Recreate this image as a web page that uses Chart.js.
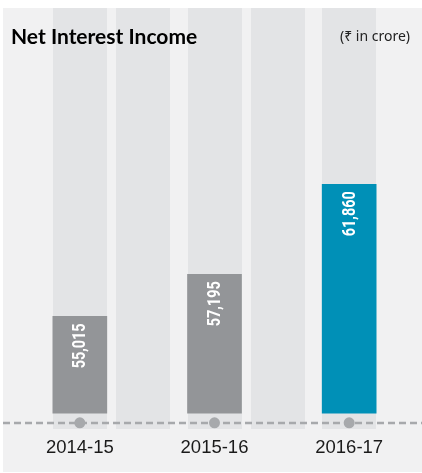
<!DOCTYPE html>
<html>
<head>
<meta charset="utf-8">
<script src="https://cdn.jsdelivr.net/npm/chart.js@4"></script>
<style>
  html, body { margin: 0; padding: 0; background: #fff; }
  #wrap { width: 422px; height: 473px; }
</style>
</head>
<body>
<div id="wrap"><canvas id="nii"></canvas></div>
<script>
/* ── data ─────────────────────────────────────────────── */
const YEARS  = ['2014-15', '2015-16', '2016-17'];
const NII    = [55015, 57195, 61860];
const BAR_COLORS = ['#939598', '#939598', '#0090b7'];
const BASE   = 50000;
const Y_MIN  = 49500;
const Y_MAX  = 71000;

const TITLE  = 'Net Interest Income';
const UNIT   = '(₹ in crore)';

const PANEL  = '#f1f1f2';
const STRIPE = '#e3e4e6';
const GREY   = '#a7a9ac';

/* ── backdrop: panel, stripes, dashed baseline, titles ── */
const backdrop = {
  id: 'backdrop',
  beforeDraw(chart) {
    const { ctx, chartArea: a, scales: { x } } = chart;
    const bottom = Math.round(a.bottom);
    ctx.save();
    ctx.fillStyle = PANEL;
    ctx.fillRect(3, a.top, chart.width - 3, chart.height - a.top - 1);

    // stripe behind every bar plus one between each pair
    ctx.fillStyle = STRIPE;
    const stripeW = 54;
    const spots = [];
    YEARS.forEach((_, i) => {
      spots.push(x.getPixelForValue(i));
      if (i < YEARS.length - 1) spots.push(x.getPixelForValue(i + 0.5) - 4);
    });
    spots.forEach(cx => ctx.fillRect(Math.round(cx - stripeW / 2), a.top, stripeW, bottom - a.top + 6));

    ctx.strokeStyle = GREY;
    ctx.lineWidth = 2.5;
    ctx.setLineDash([7, 4]);
    ctx.beginPath();
    ctx.moveTo(3, bottom);
    ctx.lineTo(chart.width, bottom);
    ctx.stroke();
    ctx.setLineDash([]);

    ctx.fillStyle = '#000';
    ctx.textBaseline = 'alphabetic';
    ctx.font = 'bold 21px Lato, "Open Sans", sans-serif';
    ctx.textAlign = 'left';
    ctx.fillText(TITLE, 11, 44);

    ctx.fillStyle = '#222';
    ctx.font = '14px "Noto Sans", "DejaVu Sans", sans-serif';
    ctx.textAlign = 'right';
    ctx.fillText(UNIT, 410, 41);
    ctx.restore();
  },
  afterDatasetsDraw(chart) {
    const { ctx } = chart;
    const meta = chart.getDatasetMeta(0);
    ctx.save();
    ctx.fillStyle = '#fff';
    ctx.font = 'bold 18px Roboto, sans-serif';
    ctx.textAlign = 'right';
    ctx.textBaseline = 'middle';
    meta.data.forEach((bar, i) => {
      ctx.save();
      ctx.translate(bar.x + 1, bar.y + 7);
      ctx.rotate(-Math.PI / 2);
      ctx.scale(0.8, 1);
      ctx.fillText(NII[i].toLocaleString('en-IN'), 0, 0);
      ctx.restore();
    });
    ctx.restore();
  }
};

new Chart(document.getElementById('nii'), {
  type: 'bar',
  data: {
    labels: YEARS,
    datasets: [
      {
        data: NII,
        base: BASE,
        backgroundColor: BAR_COLORS,
        barThickness: 54,
        borderWidth: 0,
        order: 1,
      },
      {
        type: 'line',
        data: YEARS.map(() => Y_MIN),
        showLine: false,
        pointRadius: 5.5,
        pointHoverRadius: 5.5,
        pointBackgroundColor: GREY,
        pointBorderWidth: 0,
        clip: false,
        order: 0,
      },
    ],
  },
  options: {
    responsive: true,
    maintainAspectRatio: false,
    animation: false,
    layout: { padding: { top: 8, left: 12.5, right: 4.5, bottom: 0 } },
    plugins: { legend: { display: false }, tooltip: { enabled: false } },
    scales: {
      x: {
        grid: { display: false, drawTicks: false },
        border: { display: false },
        ticks: { color: '#1a1a1a', padding: 14, font: { family: '"Liberation Sans", Arial, sans-serif', size: 18.5 } },
      },
      y: { display: false, min: Y_MIN, max: Y_MAX },
    },
  },
  plugins: [backdrop],
});
</script>
</body>
</html>
